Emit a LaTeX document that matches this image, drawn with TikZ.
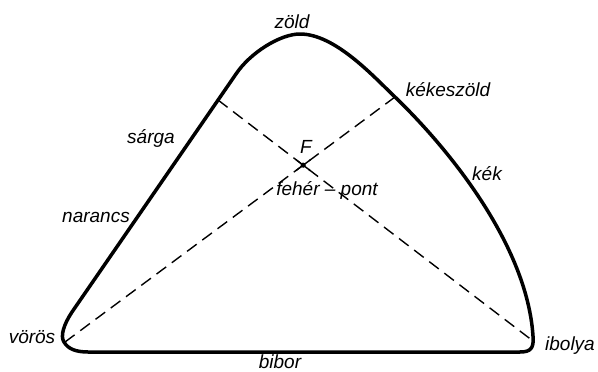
\documentclass[tikz,border=0pt]{standalone}
\usepackage{fontspec}
\setmainfont{Liberation Sans}
\usetikzlibrary{calc}
\begin{document}
\begin{tikzpicture}[x=1pt,y=-1pt,
  outline/.style={line width=3.5pt, line join=round, line cap=round},
  diag/.style={line width=1.4pt, dash pattern=on 12pt off 7pt},
  lbl/.style={inner sep=0pt, anchor=base, font=\fontsize{19}{22}\selectfont\itshape}]
\useasboundingbox (0,0) rectangle (598,372);
% key points
\coordinate (V) at (65,342);
\coordinate (S) at (218,100);
\coordinate (K) at (395,97);
\coordinate (I) at (533,341);
\coordinate (T) at (300,34);
% outline
\draw[outline] (88,352) -- (520,352)
  .. controls (531,352) and (534,348) .. (533,336)
  .. controls (527,245) and (449,149) .. (K)
  .. controls (373,76) and (335,34) .. (T)
  .. controls (280,34) and (250,53) .. (236,74)
  -- (72,312)
  .. controls (64,324) and (60,336) .. (64,342)
  .. controls (68,349) and (76,352) .. (88,352) -- cycle;
% diagonals
\draw[diag] (V) -- (K);
\draw[diag] (S) -- (I);
\coordinate (F) at (intersection of V--K and S--I);
\draw[line width=1.4pt] ($(F)!-9pt!(V)$) -- ($(F)!9pt!(V)$);
\draw[line width=1.4pt] ($(F)!-9pt!(S)$) -- ($(F)!9pt!(S)$);
\fill (F) circle (2.6pt);
% labels
\node[lbl] (zold) at (292,28) {zöld};
\node[lbl] (kekeszold) at (448,96) {kékeszöld};
\node[lbl] (kek) at (487,180) {kék};
\node[lbl] (sarga) at (151,143) {sárga};
\node[lbl] (narancs) at (96,222) {narancs};
\node[lbl] (voros) at (32,343) {vörös};
\node[lbl] (ibolya) at (570,350) {ibolya};
\node[lbl] (bibor) at (280,368) {bibor};
\node[lbl] (Flbl) at (306,153) {F};
\node[lbl] (feher) at (327,195) {fehér – pont};
\end{tikzpicture}
\end{document}
